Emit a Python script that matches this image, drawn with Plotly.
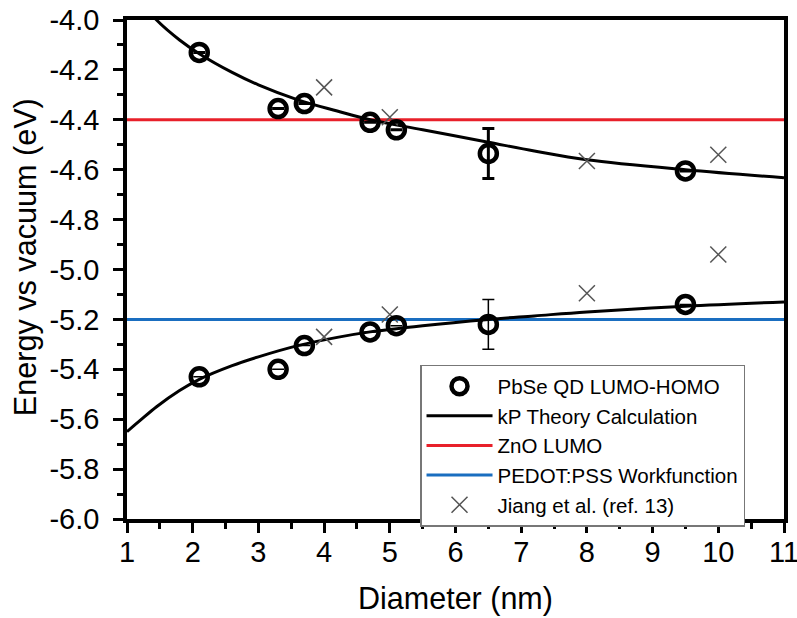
import plotly.graph_objects as go

# Measured PbSe quantum dot levels (eV vs vacuum)
diam = [2.1, 3.3, 3.7, 4.7, 5.1, 6.5, 9.5]
lumo = [-4.13, -4.355, -4.335, -4.41, -4.44, -4.535, -4.605]
homo = [-5.43, -5.40, -5.305, -5.25, -5.225, -5.22, -5.14]
err_up = [0, 0, 0, 0, 0, 0.1, 0]
err_dn = [0, 0, 0, 0, 0, 0.1, 0]

# kP theory curves
kp_x = [1.0, 1.2, 1.45, 1.8, 2.1, 2.6, 3.0, 3.6, 4.2, 4.7, 5.5, 6.5, 7.2, 8.0, 9.5, 11.0]
kp_lumo = [-3.83, -3.92, -4.00, -4.08, -4.135, -4.21, -4.26, -4.32, -4.365, -4.40,
           -4.44, -4.49, -4.525, -4.56, -4.60, -4.632]
kp_homo = [-5.65, -5.605, -5.55, -5.485, -5.44, -5.385, -5.35, -5.305, -5.272, -5.25,
           -5.225, -5.20, -5.186, -5.17, -5.147, -5.13]

# Reference data (Jiang et al.)
jiang_x = [4, 5, 8, 10, 4, 5, 8, 10]
jiang_y = [-4.27, -4.39, -4.565, -4.54, -5.27, -5.18, -5.095, -4.94]

# Electrode levels
zno_lumo = -4.4
pedot_wf = -5.2
x_span = [1, 11]

x_ticks = [1, 2, 3, 4, 5, 6, 7, 8, 9, 10, 11]
x_ticktext = ["1", "2", "3", "4", "5", "6", "7", "8", "9", "10", "11"]
y_ticks = [-6.0, -5.8, -5.6, -5.4, -5.2, -5.0, -4.8, -4.6, -4.4, -4.2, -4.0]
y_ticktext = ["-6.0", "-5.8", "-5.6", "-5.4", "-5.2", "-5.0", "-4.8", "-4.6", "-4.4", "-4.2", "-4.0"]

FONT = "Arial, Liberation Sans, sans-serif"

fig = go.Figure()

# horizontal reference levels
fig.add_trace(go.Scatter(x=x_span, y=[zno_lumo, zno_lumo], mode="lines",
                         line=dict(color="#e8202a", width=3), name="ZnO LUMO", legendrank=3))
fig.add_trace(go.Scatter(x=x_span, y=[pedot_wf, pedot_wf], mode="lines",
                         line=dict(color="#1a6ec0", width=3), name="PEDOT:PSS Workfunction",
                         legendrank=4))

# theory
fig.add_trace(go.Scatter(x=kp_x, y=kp_lumo, mode="lines", line=dict(color="black", width=3, shape="spline"),
                         name="kP Theory Calculation", legendrank=2))
fig.add_trace(go.Scatter(x=kp_x, y=kp_homo, mode="lines", line=dict(color="black", width=3, shape="spline"),
                         name="kP Theory Calculation", showlegend=False))

# Jiang reference points
fig.add_trace(go.Scatter(x=jiang_x, y=jiang_y, mode="markers",
                         marker=dict(symbol="x-thin-open", size=16, color="#555555",
                                     line=dict(color="#555555", width=1.5)),
                         name="Jiang et al. (ref. 13)", legendrank=5))

# measured levels
fig.add_trace(go.Scatter(x=diam, y=lumo, mode="markers",
                         marker=dict(symbol="circle-open", size=17, color="black",
                                     line=dict(color="black", width=4.5)),
                         error_y=dict(type="data", symmetric=False, array=err_up, arrayminus=err_dn,
                                      color="black", thickness=3, width=6),
                         name="PbSe QD LUMO-HOMO", legendrank=1))
fig.add_trace(go.Scatter(x=diam, y=homo, mode="markers",
                         marker=dict(symbol="circle-open", size=17, color="black",
                                     line=dict(color="black", width=4.5)),
                         error_y=dict(type="data", symmetric=False, array=err_up, arrayminus=err_dn,
                                      color="black", thickness=1.5, width=6),
                         name="PbSe QD LUMO-HOMO", showlegend=False))

fig.update_layout(
    width=797, height=618,
    margin=dict(l=127, r=13, t=20, b=99),
    paper_bgcolor="white", plot_bgcolor="white",
    font=dict(family=FONT, color="black"),
    showlegend=True,
    legend=dict(x=0.446, y=0.309, xanchor="left", yanchor="top",
                bordercolor="#777777", borderwidth=1.5, bgcolor="white",
                font=dict(family=FONT, size=20.5, color="black"),
                itemwidth=66, traceorder="normal"),
    xaxis=dict(range=[1, 11], tickvals=x_ticks, ticktext=x_ticktext, automargin=False,
               showline=True, linecolor="black", linewidth=3.5, mirror=True,
               ticks="outside", ticklen=10, tickwidth=3, tickcolor="black",
               minor=dict(dtick=0.5, ticks="outside", ticklen=6, tickwidth=3, tickcolor="black"),
               showgrid=False, zeroline=False, ticklabelstandoff=-6, ticklabeloverflow="allow",
               tickfont=dict(size=29, family=FONT),
               title=dict(text="Diameter (nm)", font=dict(size=30.5, family=FONT), standoff=22)),
    yaxis=dict(range=[-6.0, -4.0], tickvals=y_ticks, ticktext=y_ticktext, automargin=False,
               showline=True, linecolor="black", linewidth=3.5, mirror=True,
               ticks="outside", ticklen=10, tickwidth=3, tickcolor="black",
               minor=dict(dtick=0.1, ticks="outside", ticklen=6, tickwidth=3, tickcolor="black"),
               showgrid=False, zeroline=False, ticklabelstandoff=8,
               tickfont=dict(size=29, family=FONT)),
    annotations=[dict(text="Energy vs vacuum (eV)", textangle=-90, showarrow=False,
                      xref="paper", yref="paper", x=-0.155, y=0.525,
                      xanchor="center", yanchor="middle",
                      font=dict(size=30.6, family=FONT, color="black"))],
)

fig.write_html("out.html")
